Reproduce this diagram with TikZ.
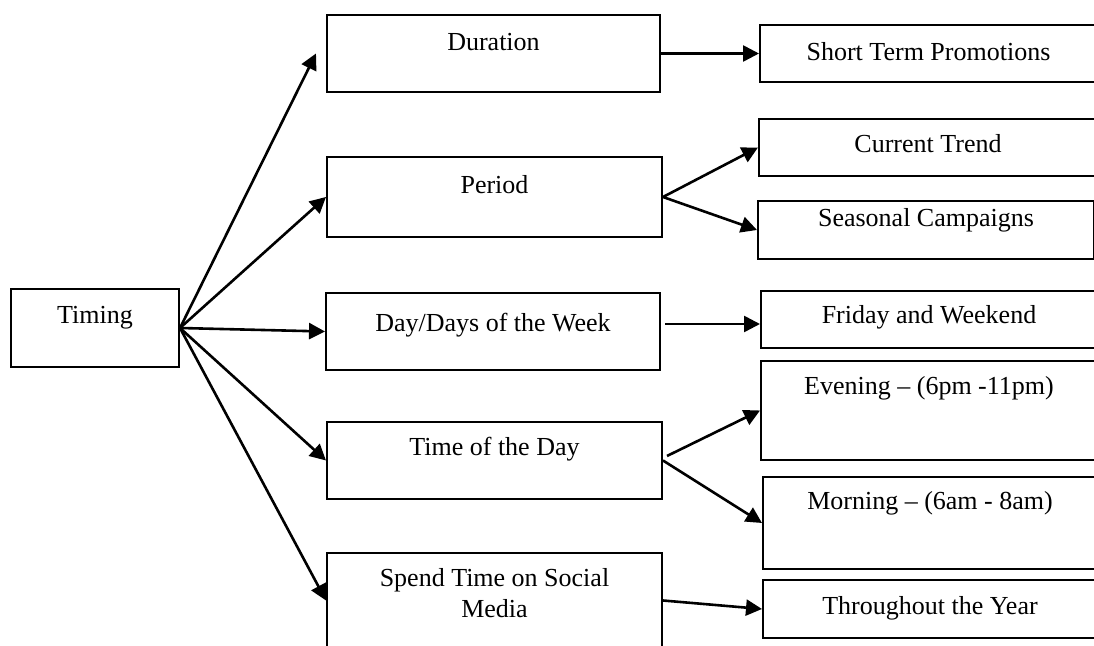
\documentclass[tikz,border=0pt]{standalone}
\usepackage{fontspec}
\setmainfont{Liberation Serif}
\usetikzlibrary{arrows.meta}
\tikzset{>={Triangle[length=8pt,width=8pt]}}
\tikzset{
  box/.style={draw, line width=1pt, anchor=north west, inner sep=0pt},
  txt/.style={anchor=base, align=center, font=\fontsize{13pt}{15.5pt}\selectfont},
  arr/.style={->, line width=1.3pt}
}

\begin{document}
\begin{tikzpicture}[x=0.5pt, y=-0.5pt]
\clip (0,0) rectangle (1094,646);
\fill[white] (0,0) rectangle (1094,646);
% first column
\node[box, minimum width=84pt, minimum height=39pt] (tim) at (10,288) {};
\node[txt] (timT) at ([shift={(0,36)}]tim.north) {Timing};
% second column
\node[box, minimum width=166.5pt, minimum height=38.5pt] (dur) at (326,14) {};
\node[box, minimum width=167.5pt, minimum height=40pt] (per) at (326,156) {};
\node[box, minimum width=167pt, minimum height=38.5pt] (day) at (325,292) {};
\node[box, minimum width=167.5pt, minimum height=38.5pt] (tod) at (326,421) {};
\node[box, minimum width=167.5pt, minimum height=47.5pt] (spd) at (326,552) {};
\node[txt] (durT) at ([shift={(0,37)}]dur.north) {Duration};
\node[txt] (perT) at ([shift={(0,38)}]per.north) {Period};
\node[txt] (dayT) at ([shift={(0,40)}]day.north) {Day/Days of the Week};
\node[txt] (todT) at ([shift={(0,35)}]tod.north) {Time of the Day};
\node[txt] (spdT) at ([shift={(0,66)}]spd.north) {Spend Time on Social\\Media};
% third column
\node[box, minimum width=168.5pt, minimum height=28.5pt] (stp) at (759,24) {};
\node[box, minimum width=169pt, minimum height=28.5pt] (cur) at (758,118) {};
\node[box, minimum width=168pt, minimum height=29pt] (sea) at (757,200) {};
\node[box, minimum width=168pt, minimum height=28.5pt] (fri) at (760,290) {};
\node[box, minimum width=168pt, minimum height=49.5pt] (eve) at (760,360) {};
\node[box, minimum width=167pt, minimum height=46pt] (mor) at (762,476) {};
\node[box, minimum width=167pt, minimum height=29pt] (thr) at (762,579) {};
\node[txt] (stpT) at ([shift={(0,37)}]stp.north) {Short Term Promotions};
\node[txt] (curT) at ([shift={(0,35)}]cur.north) {Current Trend};
\node[txt] (seaT) at ([shift={(0,27)}]sea.north) {Seasonal Campaigns};
\node[txt] (friT) at ([shift={(0,34)}]fri.north) {Friday and Weekend};
\node[txt] (eveT) at ([shift={(0,35)}]eve.north) {Evening – (6pm -11pm)};
\node[txt] (morT) at ([shift={(0,34)}]mor.north) {Morning – (6am - 8am)};
\node[txt] (thrT) at ([shift={(0,36)}]thr.north) {Throughout the Year};
% arrows
\draw[arr] (tim.east) -- ([xshift=-5pt]dur.west);
\draw[arr] (tim.east) -- (per.west);
\draw[arr] (tim.east) -- (day.west);
\draw[arr] (tim.east) -- (tod.west);
\draw[arr] (tim.east) -- (spd.west);
\draw[arr] (dur.east) -- (stp.west);
\draw[arr] (per.east) -- (cur.west);
\draw[arr] (per.east) -- (sea.west);
\coordinate (dayO) at ([shift={(4,-7.5)}]day.east);
\draw[arr] (dayO) -- (dayO -| fri.west);
\draw[arr] ([shift={(4,-4.5)}]tod.east) -- (eve.west);
\draw[arr] (tod.east) -- (mor.west);
\draw[arr] (spd.east) -- (thr.west);
\end{tikzpicture}
\end{document}
